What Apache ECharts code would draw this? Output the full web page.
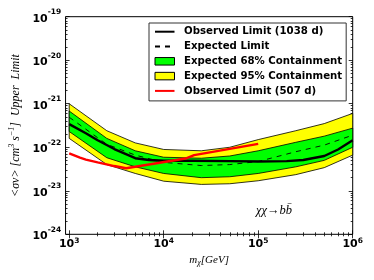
<!DOCTYPE html>
<html><head><meta charset="utf-8">
<script src="https://cdn.jsdelivr.net/npm/echarts@6/dist/echarts.min.js"></script>
<style>html,body{margin:0;padding:0;background:#fff}#c{width:374px;height:280px}</style>
</head><body><div id="c"></div>
<script>
// ---- data ----
const massBand = [1000, 2500, 5000, 10000, 25000, 50000, 100000, 250000, 500000, 1000000];
const upper95  = [1.0e-21, 2.4e-22, 1.26e-22, 8.9e-23, 8.3e-23, 1.0e-22, 1.5e-22, 2.4e-22, 3.5e-22, 6.0e-22];
const upper68  = [6.8e-22, 1.6e-22, 8.3e-23, 5.9e-23, 5.6e-23, 6.3e-23, 8.3e-23, 1.3e-22, 1.8e-22, 2.75e-22];
const expected = [4.9e-22, 1.17e-22, 6.6e-23, 4.5e-23, 3.8e-23, 4.0e-23, 4.7e-23, 7.9e-23, 1.12e-22, 1.9e-22];
const lower68  = [2.3e-22, 5.75e-23, 3.55e-23, 2.5e-23, 2.0e-23, 2.1e-23, 2.5e-23, 3.55e-23, 5.0e-23, 1.0e-22];
const lower95  = [1.6e-22, 4.0e-23, 2.5e-23, 1.66e-23, 1.4e-23, 1.45e-23, 1.7e-23, 2.35e-23, 3.4e-23, 6.6e-23];

const mass1038 = [1000, 1500, 2000, 3000, 5000, 7000, 10000, 20000, 50000, 100000, 200000, 300000, 500000, 700000, 1000000];
const obs1038  = [3.4e-22, 2.1e-22, 1.45e-22, 9.1e-23, 5.6e-23, 5.1e-23, 4.9e-23, 4.9e-23, 4.8e-23, 4.7e-23, 4.8e-23, 5.1e-23, 6.3e-23, 8.9e-23, 1.45e-22];

const mass507 = [1000, 1300, 1500, 2000, 3000, 4000, 17000, 21000, 100000];
const obs507  = [7.2e-23, 5.75e-23, 5.2e-23, 4.5e-23, 3.7e-23, 3.3e-23, 5.5e-23, 6.6e-23, 1.2e-22];

const xMajorTicks = [1e3, 1e4, 1e5, 1e6];
const yMajorTicks = [1e-24, 1e-23, 1e-22, 1e-21, 1e-20, 1e-19];
const xMinorTicks = [];
[1e3, 1e4, 1e5].forEach(d => { for (let k = 2; k <= 9; k++) xMinorTicks.push(k * d); });
const yMinorTicks = [];
[1e-24, 1e-23, 1e-22, 1e-21, 1e-20].forEach(d => { for (let k = 2; k <= 9; k++) yMinorTicks.push(k * d); });

const names = {
  obs: 'Observed Limit (1038 d)',
  exp: 'Expected Limit',
  b68: 'Expected 68% Containment',
  b95: 'Expected 95% Containment',
  red: 'Observed Limit (507 d)'
};

// ---- helpers ----
const pairs = (xs, ys) => xs.map((x, i) => [x, ys[i]]);
const powLabel = v => {
  const l = Math.log10(v), e = Math.round(l);
  if (Math.abs(l - e) > 1e-6) return '';
  return '{b|10}{s|' + e + '}';
};
const SANS = 'DejaVu Sans';
const SERIF = 'Liberation Serif';
const XMIN = 915, XMAX = 1e6, YMIN = 1e-24, YMAX = 1e-19;

const yRich = {
  b: { fontFamily: SANS, fontWeight: 'bold', fontSize: 11, color: '#000', padding: [4.4, 0, 0, 0] },
  s: { fontFamily: SANS, fontWeight: 'bold', fontSize: 7.5, color: '#000', padding: [0, 0, 8.9, 0] }
};
const xRich = {
  b: { fontFamily: SANS, fontWeight: 'bold', fontSize: 11, color: '#000' },
  s: { fontFamily: SANS, fontWeight: 'bold', fontSize: 7.5, color: '#000', padding: [0, 0, 7.4, 0] }
};

const tickAxisX = (pos, minor, extra) => Object.assign({
  type: 'log', logBase: 10, min: XMIN, max: XMAX, position: pos,
  axisLine: { show: false },
  axisTick: minor
    ? { show: true, inside: true, length: 2, customValues: xMinorTicks, lineStyle: { color: '#000', width: 0.8 } }
    : { show: true, inside: true, length: 4, customValues: xMajorTicks, lineStyle: { color: '#000', width: 0.8 } },
  axisLabel: { show: false },
  splitLine: { show: false }
}, extra || {});
const tickAxisY = (pos, minor, extra) => Object.assign({
  type: 'log', logBase: 10, min: YMIN, max: YMAX, position: pos,
  axisLine: { show: false },
  axisTick: minor
    ? { show: true, inside: true, length: 2, customValues: yMinorTicks, lineStyle: { color: '#000', width: 0.8 } }
    : { show: true, inside: true, length: 4, customValues: yMajorTicks, lineStyle: { color: '#000', width: 0.8 } },
  axisLabel: { show: false },
  splitLine: { show: false }
}, extra || {});

// filled band between two curves, drawn through the axes' scales
function bandSeries(name, lo, hi, color, z) {
  return {
    name, type: 'custom', z, silent: true,
    data: massBand.map((x, i) => [x, lo[i], hi[i]]),
    encode: { x: 0, y: [1, 2] },
    itemStyle: { color },
    renderItem: (params, api) => {
      if (params.dataIndex !== 0) return null;
      const pts = [];
      for (let j = 0; j < massBand.length; j++) pts.push(api.coord([massBand[j], hi[j]]));
      for (let j = massBand.length - 1; j >= 0; j--) pts.push(api.coord([massBand[j], lo[j]]));
      return { type: 'polygon', shape: { points: pts }, style: { fill: color, stroke: '#000', lineWidth: 0.8 } };
    }
  };
}

const chart = echarts.init(document.getElementById('c'), null, { renderer: 'canvas' });
chart.setOption({
  animation: false,
  backgroundColor: '#fff',
  grid: { left: 61, right: 21.3, top: 16.7, bottom: 45.7, show: true, borderColor: '#000', borderWidth: 1, backgroundColor: '#fff', containLabel: false },
  xAxis: [
    tickAxisX('bottom', false, {
      axisLabel: { show: true, customValues: xMajorTicks, formatter: powLabel, rich: xRich, margin: 2.3 },
      name: '{i|m}{sub|χ}{i|[GeV]}',
      nameLocation: 'middle', nameGap: 17,
      nameTextStyle: {
        rich: {
          i: { fontFamily: SERIF, fontStyle: 'italic', fontSize: 11, color: '#000' },
          sub: { fontFamily: SERIF, fontStyle: 'italic', fontSize: 8, color: '#000', padding: [5, 0, 0, 0] }
        }
      }
    }),
    tickAxisX('bottom', true),
    tickAxisX('top', false),
    tickAxisX('top', true)
  ],
  yAxis: [
    tickAxisY('left', false, {
      axisLabel: { show: true, customValues: yMajorTicks, formatter: powLabel, rich: yRich, margin: 4.3 },
      name: '{i|<σv> [cm}{s|3}{i| s}{s|−1}{i|]  Upper  Limit}',
      nameLocation: 'middle', nameGap: 36, nameRotate: 90,
      nameTextStyle: {
        rich: {
          i: { fontFamily: SERIF, fontStyle: 'italic', fontSize: 12, color: '#000' },
          s: { fontFamily: SERIF, fontStyle: 'italic', fontSize: 8, color: '#000', padding: [0, 0, 7, 0] }
        }
      }
    }),
    tickAxisY('left', true),
    tickAxisY('right', false),
    tickAxisY('right', true)
  ],
  legend: {
    orient: 'vertical', left: 149, top: 23,
    padding: [2.7, 4, 4, 5], itemGap: 2.8, itemWidth: 19.5, itemHeight: 7.5,
    borderColor: '#333', borderWidth: 1, backgroundColor: '#fff',
    selectedMode: false,
    textStyle: { fontFamily: SANS, fontWeight: 'bold', fontSize: 10.2, color: '#000', lineHeight: 12, padding: [0, 0, 0, 4.5] },
    data: [
      { name: names.obs, itemStyle: { opacity: 0 } },
      { name: names.exp, itemStyle: { opacity: 0 } },
      { name: names.b68, icon: 'rect', itemStyle: { color: '#00ff00', borderColor: '#000', borderWidth: 1 } },
      { name: names.b95, icon: 'rect', itemStyle: { color: '#ffff00', borderColor: '#000', borderWidth: 1 } },
      { name: names.red, itemStyle: { opacity: 0 } }
    ]
  },
  graphic: [{
    type: 'text', left: 256, top: 204, z: 100,
    style: { text: 'χχ→bb̄', font: 'italic 12.5px "Liberation Serif"', fill: '#000' }
  }],
  series: [
    bandSeries(names.b95, lower95, upper95, '#ffff00', 1),
    bandSeries(names.b68, lower68, upper68, '#00ff00', 2),
    { name: names.exp, type: 'line', data: pairs(massBand, expected), symbol: 'none', z: 3,
      itemStyle: { color: '#000' }, lineStyle: { color: '#000', width: 0.9, type: [5, 5] } },
    { name: names.obs, type: 'line', data: pairs(mass1038, obs1038), symbol: 'none', z: 4,
      itemStyle: { color: '#000' }, lineStyle: { color: '#000', width: 2.4 } },
    { name: names.red, type: 'line', data: pairs(mass507, obs507), symbol: 'none', z: 5,
      itemStyle: { color: '#ff0000' }, lineStyle: { color: '#ff0000', width: 2.4 } }
  ]
});
</script></body></html>
